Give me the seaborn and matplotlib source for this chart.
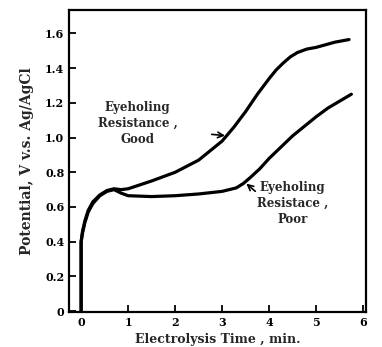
import numpy as np
import pandas as pd
import matplotlib
matplotlib.use("Agg")
import matplotlib.pyplot as plt
import seaborn as sns

t_good = [0, 0, 0.03, 0.08, 0.15, 0.25, 0.4, 0.55, 0.7, 0.85, 1.0, 1.5, 2.0, 2.5, 3.0, 3.25, 3.5,
          3.75, 4.0, 4.15, 4.3, 4.45, 4.6, 4.8, 5.0, 5.4, 5.7]
v_good = [0, 0.40, 0.46, 0.52, 0.58, 0.63, 0.67, 0.695, 0.705, 0.70, 0.705, 0.75, 0.80, 0.87, 0.98, 1.06, 1.15,
          1.25, 1.34, 1.39, 1.43, 1.465, 1.49, 1.51, 1.52, 1.55, 1.565]
t_poor = [0, 0, 0.03, 0.08, 0.15, 0.25, 0.4, 0.55, 0.7, 0.85, 1.0, 1.5, 2.0, 2.5, 3.0, 3.15, 3.3, 3.45,
          3.6, 3.8, 4.0, 4.25, 4.5, 4.75, 5.0, 5.25, 5.5, 5.75]
v_poor = [0, 0.40, 0.45, 0.51, 0.57, 0.62, 0.665, 0.69, 0.70, 0.68, 0.665, 0.66, 0.665, 0.675, 0.69, 0.70, 0.71, 0.735,
          0.77, 0.82, 0.88, 0.945, 1.01, 1.065, 1.12, 1.17, 1.21, 1.25]

x_ticks = [0, 1, 2, 3, 4, 5, 6]
y_ticks = [0, 0.2, 0.4, 0.6, 0.8, 1.0, 1.2, 1.4, 1.6]
y_ticklabels = ["0", "0.2", "0.4", "0.6", "0.8", "1.0", "1.2", "1.4", "1.6"]

df = pd.concat([
    pd.DataFrame({"t": t_good, "v": v_good, "grp": "good"}),
    pd.DataFrame({"t": t_poor, "v": v_poor, "grp": "poor"}),
])

sns.set_style("ticks")
plt.rcParams["font.family"] = ["DejaVu Serif"]
plt.rcParams["font.weight"] = "bold"

fig = plt.figure(figsize=(3.82, 3.47), dpi=100)
ax = fig.add_axes([0.181, 0.101, 0.777, 0.870])

for g in ["good", "poor"]:
    sns.lineplot(data=df[df.grp == g], x="t", y="v", sort=False, estimator=None,
                 color="black", lw=2.3, ax=ax)

ax.set_xlim(-0.255, 6.06)
ax.set_ylim(-0.005, 1.735)
ax.set_xticks(x_ticks)
ax.set_yticks(y_ticks)
ax.set_yticklabels(y_ticklabels)
ax.tick_params(direction="in", length=5, width=1.3, labelsize=8, colors="black")
for lab in ax.get_xticklabels() + ax.get_yticklabels():
    lab.set_fontweight("bold")
for s in ax.spines.values():
    s.set_linewidth(1.6)
    s.set_color("black")

ax.set_xlabel("Electrolysis Time , min.", fontsize=9, fontweight="bold", labelpad=4)
ax.set_ylabel("Potential, V v.s. Ag/AgCl", fontsize=10, fontweight="bold", labelpad=8)

ax.text(1.2, 1.08, "Eyeholing\nResistance ,\nGood", ha="center", va="center",
        fontsize=8.5, fontweight="bold", linespacing=1.3)
ax.annotate("", xy=(3.12, 1.01), xytext=(2.72, 1.02),
            arrowprops=dict(arrowstyle="->", color="black", lw=1.2))
ax.text(4.5, 0.62, "Eyeholing\nResistace ,\nPoor", ha="center", va="center",
        fontsize=8.5, fontweight="bold", linespacing=1.3)
ax.annotate("", xy=(3.47, 0.745), xytext=(3.75, 0.68),
            arrowprops=dict(arrowstyle="->", color="black", lw=1.2))

fig.savefig("out.png", dpi=100)
